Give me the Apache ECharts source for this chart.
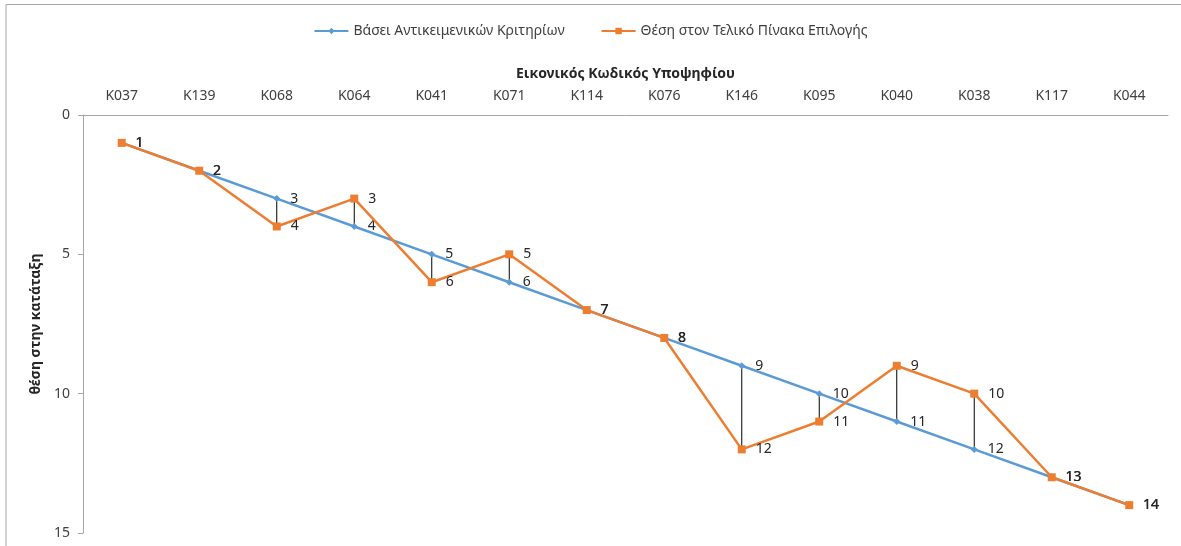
<!DOCTYPE html>
<html>
<head>
<meta charset="utf-8">
<script src="https://cdn.jsdelivr.net/npm/echarts@6/dist/echarts.min.js"></script>
<style>
  html, body { margin: 0; padding: 0; background: #fff; }
  #main { width: 1181px; height: 546px; }
</style>
</head>
<body>
<div id="main"></div>
<script>
const categories = ['K037', 'K139', 'K068', 'K064', 'K041', 'K071', 'K114', 'K076', 'K146', 'K095', 'K040', 'K038', 'K117', 'K044'];
const objective = [1, 2, 3, 4, 5, 6, 7, 8, 9, 10, 11, 12, 13, 14];
const finalTable = [1, 2, 4, 3, 6, 5, 7, 8, 12, 11, 9, 10, 13, 14];
const seriesNames = ['Βάσει Αντικειμενικών Κριτηρίων', 'Θέση στον Τελικό Πίνακα Επιλογής'];

const font = '"Noto Sans", "Open Sans", sans-serif';
const chart = echarts.init(document.getElementById('main'));

const labelStyle = {
  show: true,
  position: 'right',
  distance: 10,
  color: '#262626',
  fontSize: 14,
  fontFamily: font
};

chart.setOption({
  animation: false,
  textStyle: { fontFamily: font },
  graphic: [{
    type: 'polyline',
    shape: { points: [[6, 560], [6, 4.5], [1190, 4.5]] },
    style: { stroke: '#a6a6a6', lineWidth: 1, fill: null },
    silent: true
  }],
  legend: {
    top: 19,
    left: 'center',
    itemGap: 36,
    itemWidth: 34,
    itemHeight: 8,
    textStyle: { fontSize: 14, color: '#404040', fontFamily: font },
    data: seriesNames
  },
  grid: { left: 83, right: 13, top: 115, bottom: 13, containLabel: false },
  xAxis: {
    type: 'category',
    position: 'top',
    data: categories,
    boundaryGap: true,
    name: 'Εικονικός Κωδικός Υποψηφίου',
    nameLocation: 'middle',
    nameGap: 34,
    nameTextStyle: { fontWeight: 'bold', fontSize: 14, color: '#262626', fontFamily: font },
    axisLine: { lineStyle: { color: '#a6a6a6' } },
    axisTick: { show: false },
    axisLabel: { color: '#404040', fontSize: 14, margin: 12, fontFamily: font },
    splitLine: { show: false }
  },
  yAxis: {
    type: 'value',
    inverse: true,
    min: 0,
    max: 15,
    interval: 5,
    name: 'θέση στην κατάταξη',
    nameLocation: 'middle',
    nameGap: 36,
    nameRotate: 90,
    nameTextStyle: { fontWeight: 'bold', fontSize: 14, color: '#262626', fontFamily: font },
    axisLine: { show: true, lineStyle: { color: '#a6a6a6' } },
    axisTick: { show: true, length: 5, lineStyle: { color: '#a6a6a6' } },
    axisLabel: { color: '#404040', fontSize: 14, margin: 13, fontFamily: font },
    splitLine: { show: false }
  },
  series: [
    {
      type: 'custom',
      silent: true,
      z: 1,
      data: categories.map((c, i) => [i, objective[i], finalTable[i]]),
      renderItem: function (params, api) {
        const a = api.coord([api.value(0), api.value(1)]);
        const b = api.coord([api.value(0), api.value(2)]);
        return {
          type: 'line',
          shape: { x1: a[0], y1: a[1], x2: b[0], y2: b[1] },
          style: { stroke: '#000', lineWidth: 1 }
        };
      }
    },
    {
      name: seriesNames[0],
      type: 'line',
      z: 2,
      data: objective,
      color: '#5b9bd5',
      symbol: 'diamond',
      symbolSize: 7,
      lineStyle: { width: 2.5, color: '#5b9bd5' },
      itemStyle: { color: '#5b9bd5' },
      label: labelStyle
    },
    {
      name: seriesNames[1],
      type: 'line',
      z: 3,
      data: finalTable,
      color: '#ed7d31',
      symbol: 'rect',
      symbolSize: 8,
      lineStyle: { width: 2.5, color: '#ed7d31' },
      itemStyle: { color: '#ed7d31' },
      label: labelStyle
    }
  ]
});
</script>
</body>
</html>
